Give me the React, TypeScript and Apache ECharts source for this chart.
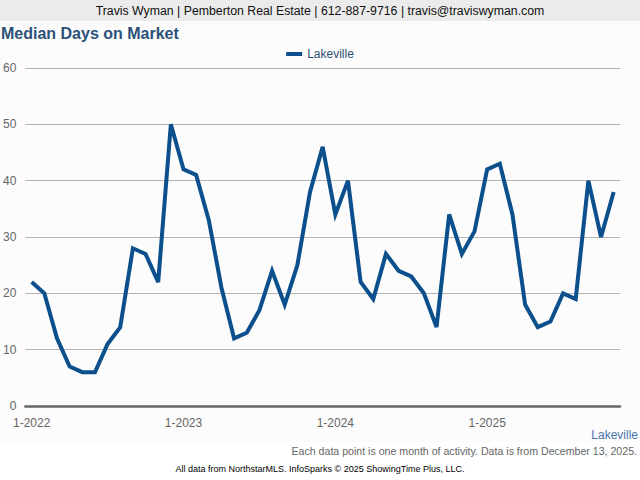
import React, { useEffect, useRef } from "react";
import * as echarts from "echarts";

const months: string[] = [];
for (let y = 2022; y <= 2025; y++) {
  for (let m = 1; m <= 12; m++) {
    if (y === 2025 && m > 11) break;
    months.push(`${m}-${y}`);
  }
}

const lakeville: number[] = [
  22, 20, 12, 7, 6, 6, 11, 14, 28, 27, 22, 50,
  42, 41, 33, 21, 12, 13, 17, 24, 18, 25, 38, 46,
  34, 40, 22, 19, 27, 24, 23, 20, 14, 34, 27, 31,
  42, 43, 34, 18, 14, 15, 20, 19, 40, 30, 38,
];

const yTicks = [0, 10, 20, 30, 40, 50, 60];

const headerText = "Travis Wyman | Pemberton Real Estate | 612-887-9716 | travis@traviswyman.com";
const titleText = "Median Days on Market";
const seriesName = "Lakeville";
const noteText = "Each data point is one month of activity. Data is from December 13, 2025.";
const creditText = "All data from NorthstarMLS. InfoSparks © 2025 ShowingTime Plus, LLC.";

export default function App() {
  const ref = useRef<HTMLDivElement>(null);
  useEffect(() => {
    if (!ref.current) return;
    const chart = echarts.init(ref.current, null, { renderer: "svg" });
    const font = "Arial, 'Liberation Sans', sans-serif";
    chart.setOption({
      animation: false,
      backgroundColor: "#ffffff",
      textStyle: { fontFamily: font },
      title: {
        text: titleText,
        left: 1,
        top: 25,
        padding: 0,
        textStyle: { fontSize: 16, fontWeight: "bold", color: "#2b5079", fontFamily: font },
      },
      legend: {
        data: [seriesName],
        top: 43,
        left: "center",
        itemWidth: 16,
        itemHeight: 4,
        itemGap: 6,
        icon: "rect",
        textStyle: { fontSize: 12, color: "#2e4f73", fontFamily: font },
      },
      grid: { left: 25, right: 20, top: 68, bottom: 74, containLabel: false },
      xAxis: {
        type: "category",
        data: months,
        boundaryGap: true,
        axisLine: { lineStyle: { color: "#666666", width: 2.5 } },
        axisTick: {
          alignWithLabel: true,
          interval: (i: number) => i % 12 === 0,
          length: 5,
          lineStyle: { color: "#666666", width: 2 },
        },
        axisLabel: {
          interval: (i: number) => i % 12 === 0,
          color: "#666666",
          fontSize: 12,
          margin: 11,
          fontFamily: font,
        },
        splitLine: { show: false },
      },
      yAxis: {
        type: "value",
        min: yTicks[0],
        max: yTicks[yTicks.length - 1],
        interval: 10,
        axisLine: { show: false },
        axisTick: { show: false },
        axisLabel: { color: "#666666", fontSize: 12, margin: 9, fontFamily: font },
        splitLine: { lineStyle: { color: "#b4b4b4", width: 1 } },
      },
      series: [
        {
          name: seriesName,
          type: "line",
          data: lakeville,
          symbol: "none",
          lineStyle: { color: "#0b4f8c", width: 4, join: "miter" },
          itemStyle: { color: "#0b4f8c" },
          z: 5,
        },
      ],
      graphic: [
        { type: "rect", z: -10, silent: true, shape: { x: 0, y: 21, width: 640, height: 421 }, style: { fill: "#fcfcfc" } },
        { type: "rect", z: -5, silent: true, shape: { x: 0, y: 0, width: 640, height: 21 }, style: { fill: "#ebebeb" } },
        {
          type: "text",
          x: 320,
          y: 11,
          style: { text: headerText, fontSize: 12.3, fill: "#111111", align: "center", verticalAlign: "middle", fontFamily: font },
        },
        {
          type: "text",
          x: 638,
          y: 435,
          style: { text: seriesName, fontSize: 12, fill: "#4a74a8", align: "right", verticalAlign: "middle", fontFamily: font },
        },
        {
          type: "text",
          x: 637,
          y: 451,
          style: { text: noteText, fontSize: 10.6, fill: "#666666", align: "right", verticalAlign: "middle", fontFamily: font },
        },
        {
          type: "text",
          x: 320,
          y: 469,
          style: { text: creditText, fontSize: 9, fill: "#000000", align: "center", verticalAlign: "middle", fontFamily: font },
        },
      ],
    });
    return () => chart.dispose();
  }, []);
  return (
    <div
      ref={ref}
      style={{ position: "absolute", left: 0, top: 0, width: 640, height: 480 }}
    />
  );
}
